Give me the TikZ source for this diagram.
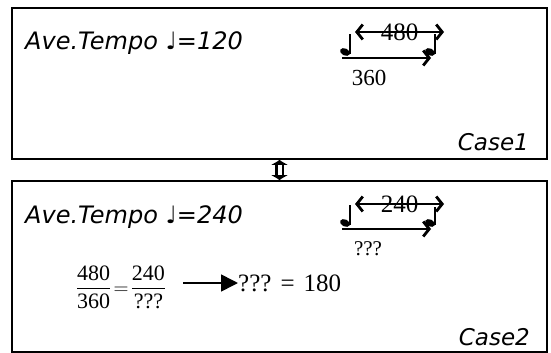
\documentclass[tikz,border=0pt]{standalone}
\usepackage{amsmath}
\usepackage{fontspec}
\setmainfont{Liberation Serif}
\setsansfont{DejaVu Sans}
\usetikzlibrary{positioning, arrows.meta, shapes.geometric}

\begin{document}
\begin{tikzpicture}[
    x=1pt, y=-1pt,
    casebox/.style={draw, line width=1.6pt, minimum width=535pt, inner sep=0pt},
    tempo/.style={font=\sffamily\itshape\fontsize{24}{26}\selectfont, anchor=base west, inner sep=0pt},
    case_label/.style={font=\sffamily\itshape\fontsize{23}{25}\selectfont, anchor=base east, inner sep=0pt},
    notehead/.style={ellipse, fill, minimum width=10.5pt, minimum height=7pt, inner sep=0pt, rotate=-25},
    stem/.style={line width=1.2pt},
    num/.style={font=\fontsize{23}{25}\selectfont, inner sep=0pt},
    span/.style={line width=1.6pt, {Straight Barb[length=6pt,width=15pt,line width=2.8pt]}-{Straight Barb[length=6pt,width=15pt,line width=2.8pt]}},
    shift_arrow/.style={line width=1.6pt, -{Straight Barb[length=6pt,width=15pt,line width=2.8pt]}}
]
    \useasboundingbox (0,0) rectangle (551,353);

    % Boxes
    \node[casebox, minimum height=151pt] (case1) at (279.5,83.5) {};
    \node[casebox, minimum height=171pt] (case2) at (279.5,266.5) {};
    \draw[line width=2.4pt, double distance=4pt,
          {Latex[length=5pt,width=18pt]}-{Latex[length=5pt,width=18pt]}] (case1.south) -- (case2.north);

    % Case 1
    \node[tempo] (tempo1) at (25,50) {Ave.Tempo ♩=120};
    \node[case_label] (name1) at (529,150) {Case1};
    \node[notehead] (n1a) at (345,52) {};
    \node[notehead] (n1b) at (430,52) {};
    \draw[stem] (n1a.east) -- ++(0,-20);
    \draw[stem] (n1b.east) -- ++(0,-20);
    \coordinate (s1a) at (355,32);
    \coordinate (s1b) at (444,32);
    \draw[span] (s1a) -- (s1b) node[midway, num, font=\fontsize{25}{27}\selectfont] (d1) {480};
    \coordinate (g1a) at (342,58);
    \coordinate (g1b) at (431,58);
    \draw[shift_arrow] (g1a) -- (g1b);
    \node[num, anchor=base] (v1) at (369,85) {360};

    % Case 2
    \node[tempo] (tempo2) at (25,223) {Ave.Tempo ♩=240};
    \node[case_label] (name2) at (530,345) {Case2};
    \node[notehead] (n2a) at (345,223) {};
    \node[notehead] (n2b) at (430,223) {};
    \draw[stem] (n2a.east) -- ++(0,-20);
    \draw[stem] (n2b.east) -- ++(0,-18);
    \coordinate (s2a) at (355,204);
    \coordinate (s2b) at (444,204);
    \draw[span] (s2a) -- (s2b) node[midway, num, font=\fontsize{25}{27}\selectfont] (d2) {240};
    \coordinate (g2a) at (342,229);
    \coordinate (g2b) at (431,229);
    \draw[shift_arrow] (g2a) -- (g2b);
    \node[num, anchor=base, font=\fontsize{21}{23}\selectfont] (v2) at (368,255) {???};

    % Ratio
    \node[inner sep=0pt, font=\fontsize{22}{24}\selectfont] (ratio) at (121,287)
        {$\dfrac{\text{480}}{\text{360}}\!=\!\dfrac{\text{240}}{\text{???}}$};
    \node[num, anchor=west, font=\fontsize{25}{27}\selectfont] (result) at (238,283) {???\hspace{9pt}=\hspace{9pt}180};
    \coordinate (r0) at (183,283);
    \draw[line width=1.6pt, -{Triangle[length=17pt,width=17pt]}] (r0) -- (result.west);
\end{tikzpicture}
\end{document}
